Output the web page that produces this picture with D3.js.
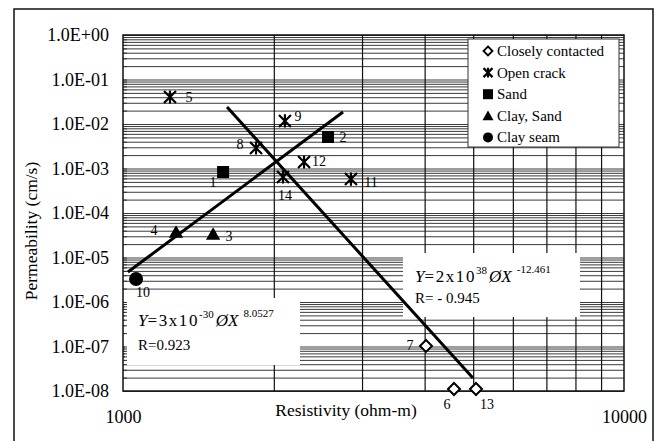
<!DOCTYPE html>
<html><head><meta charset="utf-8">
<script src="https://cdn.jsdelivr.net/npm/d3@7"></script>
<style>
body{margin:0;background:#fff}
svg{display:block}
text{font-family:"Liberation Serif","Times New Roman",serif;fill:#000}
</style>
</head><body>
<svg id="c" width="656" height="441"></svg>
<script>
// ---------- data ----------
const categories = ["Closely contacted", "Open crack", "Sand", "Clay, Sand", "Clay seam"];

const closelyIds = ["7", "6", "13"];
const closelyRes = [4025, 4578, 5065];
const closelyPerm = [1.03e-7, 1.11e-8, 1.11e-8];

const openIds = ["5", "8", "9", "11", "12", "14"];
const openRes = [1241, 1843, 2105, 2851, 2298, 2086];
const openPerm = [4.04e-2, 2.89e-3, 1.17e-2, 5.8e-4, 1.4e-3, 6.44e-4];

const sandIds = ["1", "2"];
const sandRes = [1584, 2566];
const sandPerm = [8.34e-4, 5.1e-3];

const claySandIds = ["3", "4"];
const claySandRes = [1513, 1276];
const claySandPerm = [3.37e-5, 3.74e-5];

const claySeamIds = ["10"];
const claySeamRes = [1062];
const claySeamPerm = [3.29e-6];

// trend lines (end points)
const trendUpRes = [1023, 2749];
const trendUpPerm = [4.72e-6, 1.86e-2];
const trendDownRes = [1613, 4995];
const trendDownPerm = [2.41e-2, 1.96e-8];

const xTickLabels = [1000, 10000];
const yTickValues = [1, 1e-1, 1e-2, 1e-3, 1e-4, 1e-5, 1e-6, 1e-7, 1e-8];
const xGridValues = [2000, 3000, 4000, 5000, 6000, 7000, 8000, 9000];

const eqUp = {coef: "3x10", exp: "-30", pow: "8.0527", r: "R=0.923"};
const eqDown = {coef: "2x10", exp: "38", pow: "-12.461", r: "R= - 0.945"};

// ---------- layout ----------
const svg = d3.select("#c");
const L = 123, R = 624, T = 35, B = 391;
const x = d3.scaleLog().domain([1000, 10000]).range([L, R]);
const y = d3.scaleLog().domain([1e-8, 1]).range([B, T]);

// outer frame
svg.append("rect").attr("x", 14).attr("y", 9).attr("width", 639).attr("height", 440)
  .attr("fill", "none").attr("stroke", "#111").attr("stroke-width", 1.5);

// horizontal grid (minor + major)
const yGrid = d3.range(-8, 0).flatMap(e => d3.range(1, 10).map(k => k * Math.pow(10, e))).concat([1]);
const gy = svg.append("g").attr("transform", `translate(${L},0)`)
  .call(d3.axisLeft(y).tickValues(yGrid).tickSize(-(R - L)).tickFormat(""));
gy.select(".domain").remove();
gy.selectAll(".tick line").attr("stroke", "#3a3a3a").attr("stroke-width", 1);

// vertical grid
const gx = svg.append("g").attr("transform", `translate(0,${B})`)
  .call(d3.axisBottom(x).tickValues(xGridValues).tickSize(-(B - T)).tickFormat(""));
gx.select(".domain").remove();
gx.selectAll(".tick line").attr("stroke", "#111").attr("stroke-width", 1.2);

// white boxes (legend and equations)
svg.append("rect").attr("x", 125).attr("y", 298).attr("width", 175).attr("height", 67).attr("fill", "#fff");
svg.append("rect").attr("x", 403).attr("y", 253).attr("width", 177).attr("height", 64).attr("fill", "#fff");
svg.append("rect").attr("x", 468).attr("y", 39).attr("width", 151).attr("height", 108)
  .attr("fill", "#fff").attr("stroke", "#333").attr("stroke-width", 1);

// left axis inward minor ticks
const gt = svg.append("g").attr("transform", `translate(${L},0)`)
  .call(d3.axisRight(y).tickValues(yGrid).tickSize(4).tickFormat(""));
gt.select(".domain").remove();
gt.selectAll(".tick line").attr("stroke", "#333");

// plot border
svg.append("rect").attr("x", L).attr("y", T).attr("width", R - L).attr("height", B - T)
  .attr("fill", "none").attr("stroke", "#111").attr("stroke-width", 1.5);

// tick labels
const fmtE = d => {
  const e = Math.round(Math.log10(d));
  return "1.0E" + (e >= 0 ? "+" : "-") + String(Math.abs(e)).padStart(2, "0");
};
const ya = svg.append("g").attr("transform", `translate(${L},0)`)
  .call(d3.axisLeft(y).tickValues(yTickValues).tickSize(0).tickPadding(14).tickFormat(fmtE));
ya.select(".domain").remove();
ya.selectAll("text").attr("font-size", 18).attr("font-family", "Liberation Serif");

const xa = svg.append("g").attr("transform", `translate(0,${B})`)
  .call(d3.axisBottom(x).tickValues(xTickLabels).tickSize(0).tickPadding(19).tickFormat(d3.format("d")));
xa.select(".domain").remove();
xa.selectAll("text").attr("font-size", 18).attr("font-family", "Liberation Serif");

// axis titles
svg.append("text").attr("x", 346).attr("y", 416).attr("text-anchor", "middle")
  .attr("font-size", 17.5).text("Resistivity (ohm-m)");
svg.append("text").attr("transform", "translate(37,231) rotate(-90)").attr("text-anchor", "middle")
  .attr("font-size", 17.5).text("Permeability (cm/s)");

// trend lines
const line = d3.line().x(d => x(d[0])).y(d => y(d[1]));
svg.append("path").datum(d3.zip(trendUpRes, trendUpPerm)).attr("d", line)
  .attr("stroke", "#000").attr("stroke-width", 3).attr("fill", "none");
svg.append("path").datum(d3.zip(trendDownRes, trendDownPerm)).attr("d", line)
  .attr("stroke", "#000").attr("stroke-width", 3).attr("fill", "none");

// symbols
const sym = {
  diamond: s => `M0,${-s}L${s},0L0,${s}L${-s},0Z`,
  star: s => `M${-s},${-s}L${s},${s}M${-s},${s}L${s},${-s}M0,${-s * 1.1}L0,${s * 1.1}`,
  square: s => `M${-s},${-s}H${s}V${s}H${-s}Z`,
  triangle: s => `M0,${-s * 1.05}L${s * 1.1},${s * 0.9}L${-s * 1.1},${s * 0.9}Z`,
  circle: s => `M${-s},0A${s},${s} 0 1,0 ${s},0A${s},${s} 0 1,0 ${-s},0Z`
};
const styleFor = {
  diamond: el => el.attr("fill", "#fff").attr("stroke", "#000").attr("stroke-width", 2),
  star: el => el.attr("fill", "none").attr("stroke", "#000").attr("stroke-width", 2.2),
  square: el => el.attr("fill", "#000"),
  triangle: el => el.attr("fill", "#000"),
  circle: el => el.attr("fill", "#000")
};
const series = [
  {name: categories[0], shape: "diamond", size: 6, ids: closelyIds, xs: closelyRes, ys: closelyPerm},
  {name: categories[1], shape: "star", size: 6, ids: openIds, xs: openRes, ys: openPerm},
  {name: categories[2], shape: "square", size: 6, ids: sandIds, xs: sandRes, ys: sandPerm},
  {name: categories[3], shape: "triangle", size: 6.5, ids: claySandIds, xs: claySandRes, ys: claySandPerm},
  {name: categories[4], shape: "circle", size: 7, ids: claySeamIds, xs: claySeamRes, ys: claySeamPerm}
];
// label offsets from marker centre
const labelOff = {
  "5": [19, 0], "9": [13, -4], "8": [-16, -3], "12": [15, 0], "14": [2, 18], "11": [20, 3],
  "1": [-10, 10], "2": [15, 0], "4": [-22, -2], "3": [16, 2], "10": [7, 14],
  "7": [-16, 0], "6": [-7, 16], "13": [11, 16]
};
series.forEach(s => {
  const pts = s.ids.map((id, i) => ({id, x: s.xs[i], y: s.ys[i]}));
  const g = svg.append("g");
  styleFor[s.shape](g.selectAll("path").data(pts).join("path")
    .attr("transform", d => `translate(${x(d.x)},${y(d.y)})`)
    .attr("d", sym[s.shape](s.size)));
  svg.append("g").selectAll("text").data(pts).join("text")
    .attr("x", d => x(d.x) + labelOff[d.id][0])
    .attr("y", d => y(d.y) + labelOff[d.id][1])
    .attr("text-anchor", "middle").attr("dominant-baseline", "central")
    .attr("font-size", 14).text(d => d.id);
});

// legend
const lg = svg.append("g");
series.forEach((s, i) => {
  const cy = 51 + i * 21.6;
  styleFor[s.shape](lg.append("path").attr("transform", `translate(488,${cy})`)
    .attr("d", sym[s.shape](s.shape === "star" ? 4.5 : (s.shape === "diamond" ? 4.5 : 5))));
  lg.append("text").attr("x", 497).attr("y", cy).attr("dominant-baseline", "central")
    .attr("font-size", 15).text(s.name);
});
lg.selectAll("path").filter(function(){return d3.select(this).attr("stroke-width")=="2"}).attr("stroke-width", 1.8);

// equations
function equation(e, x0, yb, yr) {
  const t = svg.append("text").attr("x", x0).attr("y", yb).attr("font-size", 17);
  t.append("tspan").attr("font-style", "italic").text("Y");
  t.append("tspan").attr("letter-spacing", 1.6).text("=" + e.coef);
  t.append("tspan").attr("font-size", 11).attr("dy", -8).text(e.exp);
  t.append("tspan").attr("dy", 8).attr("dx", 2).attr("font-style", "italic").text("ØX");
  t.append("tspan").attr("font-size", 11).attr("dy", -9).attr("dx", 5).text(e.pow);
  svg.append("text").attr("x", x0).attr("y", yr).attr("font-size", 15).text(e.r);
}
equation(eqUp, 138, 326, 350);
equation(eqDown, 415, 282, 303);
</script>
</body></html>
